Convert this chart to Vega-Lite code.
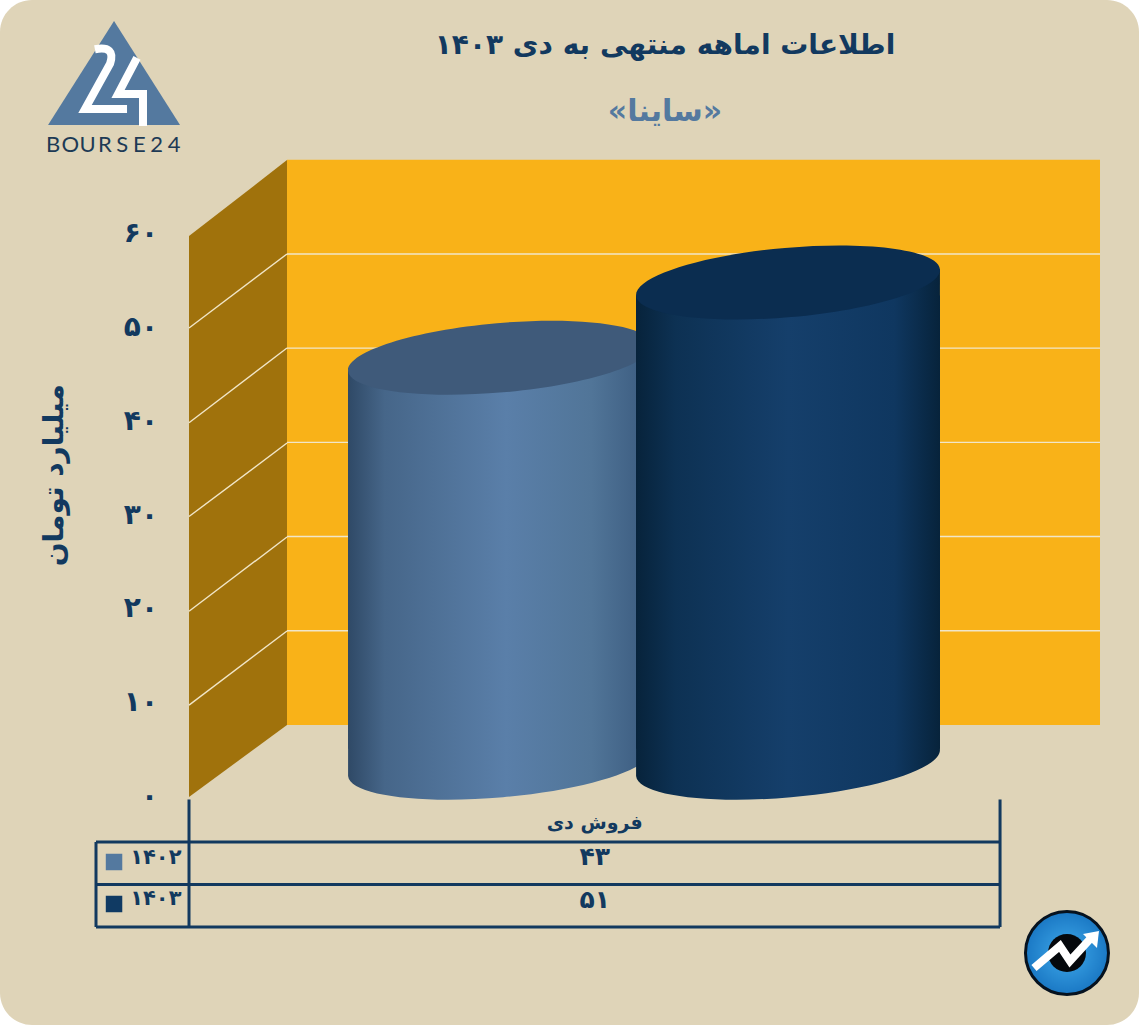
{"$schema":"https://vega.github.io/schema/vega-lite/v6.json","width":1139,"height":1025,"padding":0,"autosize":{"type":"fit","contains":"padding"},"background":"#ffffff","view":{"fill":"#dfd4b8","cornerRadius":32,"stroke":null},"config":{"axis":{"disable":true},"legend":{"disable":true}},"resolve":{"scale":{"x":"independent","y":"independent","color":"independent"}},
"data":{"values":[{"period":"۱۴۰۲","value":43,"valueFa":"۴۳"},{"period":"۱۴۰۳","value":51,"valueFa":"۵۱"}]},
"layer":[
{"data":{"values":[{"depth":0,"floor":0,"ceiling":59.8},{"depth":1,"floor":7.68,"ceiling":67.9}]},"mark":{"type":"area","color":"#a0720c","opacity":1},"encoding":{"x":{"field":"depth","type":"quantitative","scale":{"domain":[-1.9286,9.6939]}},"y":{"field":"ceiling","type":"quantitative","scale":{"domain":[-24.307,84.968]}},"y2":{"field":"floor"}}},
{"data":{"values":[{"from":1,"to":9.296,"floor":0,"ceiling":60}]},"mark":{"type":"rect","color":"#f9b218","opacity":1},"encoding":{"x":{"field":"from","type":"quantitative","scale":{"domain":[-1.9286,9.6939]}},"x2":{"field":"to"},"y":{"field":"ceiling","type":"quantitative","scale":{"domain":[-31.85,76.96]}},"y2":{"field":"floor"}}},
{"data":{"values":[{"tick":10},{"tick":20},{"tick":30},{"tick":40},{"tick":50}]},"mark":{"type":"rule","color":"#f1e6c8","strokeWidth":1.4},"encoding":{"x":{"datum":1,"type":"quantitative","scale":{"domain":[-1.9286,9.6939]}},"x2":{"datum":9.296},"y":{"field":"tick","type":"quantitative","scale":{"domain":[-31.85,76.96]}}}},
{"data":{"values":[{"tick":10,"depth":0,"level":9.8},{"tick":10,"depth":1,"level":17.7},{"tick":20,"depth":0,"level":19.8},{"tick":20,"depth":1,"level":27.72},{"tick":30,"depth":0,"level":29.9},{"tick":30,"depth":1,"level":37.74},{"tick":40,"depth":0,"level":39.9},{"tick":40,"depth":1,"level":47.87},{"tick":50,"depth":0,"level":50},{"tick":50,"depth":1,"level":57.89}]},"mark":{"type":"line","color":"#f1e6c8","strokeWidth":1.4},"encoding":{"x":{"field":"depth","type":"quantitative","scale":{"domain":[-1.9286,9.6939]}},"y":{"field":"level","type":"quantitative","scale":{"domain":[-24.307,84.968]}},"detail":{"field":"tick"}}},

{"transform":[{"filter":"datum.value==43"}],"mark":{"type":"bar","size":304,"yOffset":13,"y2Offset":-14,"fill":{"gradient":"linear","x1":0,"x2":1,"y1":0,"y2":0,"stops":[{"offset":0,"color":"#2f4966"},{"offset":0.12,"color":"#466689"},{"offset":0.52,"color":"#5a7fa9"},{"offset":0.8,"color":"#517598"},{"offset":1,"color":"#3a5a7e"}]}},"encoding":{"x":{"field":"period","type":"nominal","scale":{"type":"point","padding":0,"domain":["۱۴۰۲","۱۴۰۳"],"range":[500,788]}},"y":{"field":"value","type":"quantitative","stack":null,"scale":{"domain":[-27.86,81]}},"y2":{"datum":0}}},
{"transform":[{"filter":"datum.value==43"}],"mark":{"type":"point","filled":true,"opacity":1,"size":93025,"shape":"M-0.9962,0.0872A1,0.2275,-5,1,0,0.9962,-0.0872L0.9962,-0.2L-0.9962,-0.2Z","fill":{"gradient":"linear","x1":0,"x2":1,"y1":0,"y2":0,"stops":[{"offset":0,"color":"#2f4966"},{"offset":0.12,"color":"#466689"},{"offset":0.52,"color":"#5a7fa9"},{"offset":0.8,"color":"#517598"},{"offset":1,"color":"#3a5a7e"}]}},"encoding":{"x":{"field":"period","type":"nominal","scale":{"type":"point","padding":0,"domain":["۱۴۰۲","۱۴۰۳"],"range":[500,788]}},"y":{"datum":0,"type":"quantitative","scale":{"domain":[-27.86,81]}}}},
{"transform":[{"filter":"datum.value==43"}],"mark":{"type":"point","filled":true,"opacity":1,"size":93025,"shape":"M-0.9962,0.0872L0.9962,-0.0872L0.9962,0.2L-0.9962,0.2Z","fill":{"gradient":"linear","x1":0,"x2":1,"y1":0,"y2":0,"stops":[{"offset":0,"color":"#2f4966"},{"offset":0.12,"color":"#466689"},{"offset":0.52,"color":"#5a7fa9"},{"offset":0.8,"color":"#517598"},{"offset":1,"color":"#3a5a7e"}]}},"encoding":{"x":{"field":"period","type":"nominal","scale":{"type":"point","padding":0,"domain":["۱۴۰۲","۱۴۰۳"],"range":[500,788]}},"y":{"field":"value","type":"quantitative","scale":{"domain":[-27.86,81]}}}},
{"transform":[{"filter":"datum.value==43"}],"mark":{"type":"point","filled":true,"opacity":1,"size":93025,"shape":"M-0.9962,0.0872A1,0.2275,-5,1,1,0.9962,-0.0872A1,0.2275,-5,1,1,-0.9962,0.0872Z","fill":"#3f5a7a"},"encoding":{"x":{"field":"period","type":"nominal","scale":{"type":"point","padding":0,"domain":["۱۴۰۲","۱۴۰۳"],"range":[500,788]}},"y":{"field":"value","type":"quantitative","scale":{"domain":[-27.86,81]}}}},

{"transform":[{"filter":"datum.value==51"}],"mark":{"type":"bar","size":304,"yOffset":13,"y2Offset":-14,"fill":{"gradient":"linear","x1":0,"x2":1,"y1":0,"y2":0,"stops":[{"offset":0,"color":"#07233b"},{"offset":0.13,"color":"#0d3153"},{"offset":0.5,"color":"#153f6b"},{"offset":0.85,"color":"#0f3760"},{"offset":1,"color":"#07233b"}]}},"encoding":{"x":{"field":"period","type":"nominal","scale":{"type":"point","padding":0,"domain":["۱۴۰۲","۱۴۰۳"],"range":[500,788]}},"y":{"field":"value","type":"quantitative","stack":null,"scale":{"domain":[-27.86,81]}},"y2":{"datum":0}}},
{"transform":[{"filter":"datum.value==51"}],"mark":{"type":"point","filled":true,"opacity":1,"size":93025,"shape":"M-0.9962,0.0872A1,0.2275,-5,1,0,0.9962,-0.0872L0.9962,-0.2L-0.9962,-0.2Z","fill":{"gradient":"linear","x1":0,"x2":1,"y1":0,"y2":0,"stops":[{"offset":0,"color":"#07233b"},{"offset":0.13,"color":"#0d3153"},{"offset":0.5,"color":"#153f6b"},{"offset":0.85,"color":"#0f3760"},{"offset":1,"color":"#07233b"}]}},"encoding":{"x":{"field":"period","type":"nominal","scale":{"type":"point","padding":0,"domain":["۱۴۰۲","۱۴۰۳"],"range":[500,788]}},"y":{"datum":0,"type":"quantitative","scale":{"domain":[-27.86,81]}}}},
{"transform":[{"filter":"datum.value==51"}],"mark":{"type":"point","filled":true,"opacity":1,"size":93025,"shape":"M-0.9962,0.0872L0.9962,-0.0872L0.9962,0.2L-0.9962,0.2Z","fill":{"gradient":"linear","x1":0,"x2":1,"y1":0,"y2":0,"stops":[{"offset":0,"color":"#07233b"},{"offset":0.13,"color":"#0d3153"},{"offset":0.5,"color":"#153f6b"},{"offset":0.85,"color":"#0f3760"},{"offset":1,"color":"#07233b"}]}},"encoding":{"x":{"field":"period","type":"nominal","scale":{"type":"point","padding":0,"domain":["۱۴۰۲","۱۴۰۳"],"range":[500,788]}},"y":{"field":"value","type":"quantitative","scale":{"domain":[-27.86,81]}}}},
{"transform":[{"filter":"datum.value==51"}],"mark":{"type":"point","filled":true,"opacity":1,"size":93025,"shape":"M-0.9962,0.0872A1,0.2275,-5,1,1,0.9962,-0.0872A1,0.2275,-5,1,1,-0.9962,0.0872Z","fill":"#0b2d50"},"encoding":{"x":{"field":"period","type":"nominal","scale":{"type":"point","padding":0,"domain":["۱۴۰۲","۱۴۰۳"],"range":[500,788]}},"y":{"field":"value","type":"quantitative","scale":{"domain":[-27.86,81]}}}},

{"data":{"values":[{"tick":0,"label":"۰"},{"tick":10,"label":"۱۰"},{"tick":20,"label":"۲۰"},{"tick":30,"label":"۳۰"},{"tick":40,"label":"۴۰"},{"tick":50,"label":"۵۰"},{"tick":60,"label":"۶۰"}]},"mark":{"type":"text","font":"DejaVu Sans","fontWeight":"bold","fontSize":28,"align":"right","baseline":"middle","color":"#12395f"},"encoding":{"x":{"datum":-0.316,"type":"quantitative","scale":{"domain":[-1.9286,9.6939]}},"y":{"field":"tick","type":"quantitative","scale":{"domain":[-24.307,84.968]}},"text":{"field":"label"}}},
{"data":{"values":[{"t":"میلیارد تومان"}]},"mark":{"type":"text","font":"DejaVu Sans","fontWeight":"bold","fontSize":28,"align":"center","baseline":"middle","angle":270,"color":"#12395f"},"encoding":{"x":{"datum":-1.37,"type":"quantitative","scale":{"domain":[-1.9286,9.6939]}},"y":{"datum":34.3,"type":"quantitative","scale":{"domain":[-24.307,84.968]}},"text":{"field":"t"}}},
{"data":{"values":[{"t":"اطلاعات   اماهه منتهی به دی ۱۴۰۳"}]},"mark":{"type":"text","font":"DejaVu Sans","fontWeight":"bold","fontSize":28,"align":"center","baseline":"middle","color":"#12395f"},"encoding":{"x":{"datum":4.857,"type":"quantitative","scale":{"domain":[-1.9286,9.6939]}},"y":{"datum":80.06,"type":"quantitative","scale":{"domain":[-24.307,84.968]}},"text":{"field":"t"}}},
{"data":{"values":[{"t":"«ساینا»"}]},"mark":{"type":"text","font":"DejaVu Sans","fontWeight":"bold","fontSize":30,"align":"center","baseline":"middle","color":"#54799f"},"encoding":{"x":{"datum":4.857,"type":"quantitative","scale":{"domain":[-1.9286,9.6939]}},"y":{"datum":73.03,"type":"quantitative","scale":{"domain":[-24.307,84.968]}},"text":{"field":"t"}}},

{"data":{"values":[{"row":0},{"row":1},{"row":2}]},"mark":{"type":"rule","color":"#12395f","strokeWidth":3},"encoding":{"x":{"datum":-0.949,"type":"quantitative","scale":{"domain":[-1.9286,9.6939]}},"x2":{"datum":8.276},"y":{"field":"row","type":"quantitative","scale":{"domain":[4.306,-19.81]}}}},
{"data":{"values":[{"col":0,"start":-1},{"col":8.276,"start":-1},{"col":-0.949,"start":0}]},"mark":{"type":"rule","color":"#12395f","strokeWidth":3},"encoding":{"x":{"field":"col","type":"quantitative","scale":{"domain":[-1.9286,9.6939]}},"y":{"field":"start","type":"quantitative","scale":{"domain":[4.306,-19.81]}},"y2":{"datum":2}}},
{"data":{"values":[{"t":"فروش دی"}]},"mark":{"type":"text","font":"DejaVu Sans","fontWeight":"bold","fontSize":19,"align":"center","baseline":"middle","color":"#12395f"},"encoding":{"x":{"datum":4.14,"type":"quantitative","scale":{"domain":[-1.9286,9.6939]}},"y":{"datum":-0.45,"type":"quantitative","scale":{"domain":[4.306,-19.81]}},"text":{"field":"t"}}},
{"mark":{"type":"text","font":"DejaVu Sans","fontWeight":"bold","fontSize":25,"align":"center","baseline":"middle","color":"#12395f"},"encoding":{"x":{"datum":4.14,"type":"quantitative","scale":{"domain":[-1.9286,9.6939]}},"y":{"field":"period","type":"nominal","scale":{"type":"point","padding":0,"domain":["۱۴۰۲","۱۴۰۳"],"range":[857,900]}},"text":{"field":"valueFa"}}},
{"mark":{"type":"text","font":"DejaVu Sans","fontWeight":"bold","fontSize":21,"align":"left","baseline":"middle","color":"#12395f"},"encoding":{"x":{"datum":-0.6,"type":"quantitative","scale":{"domain":[-1.9286,9.6939]}},"y":{"field":"period","type":"nominal","scale":{"type":"point","padding":0,"domain":["۱۴۰۲","۱۴۰۳"],"range":[858,899]}},"text":{"field":"period"}}},
{"mark":{"type":"point","shape":"square","filled":true,"opacity":1,"size":272},"encoding":{"x":{"datum":-0.765,"type":"quantitative","scale":{"domain":[-1.9286,9.6939]}},"y":{"field":"period","type":"nominal","scale":{"type":"point","padding":0,"domain":["۱۴۰۲","۱۴۰۳"],"range":[862,904]}},"color":{"field":"period","type":"nominal","scale":{"domain":["۱۴۰۲","۱۴۰۳"],"range":["#54799f","#103a63"]}}}},

{"data":{"values":[{}]},"mark":{"type":"point","filled":true,"opacity":1,"size":17424,"shape":"M0,-0.788L1,0.788L-1,0.788Z","fill":"#54799f"},"encoding":{"x":{"datum":-0.765,"type":"quantitative","scale":{"domain":[-1.9286,9.6939]}},"y":{"datum":77.19,"type":"quantitative","scale":{"domain":[-24.307,84.968]}}}},
{"data":{"values":[{}]},"mark":{"type":"point","filled":false,"opacity":1,"size":17424,"strokeWidth":8,"strokeJoin":"miter","stroke":"#ffffff","fill":"transparent","shape":"M-0.29,-0.36Q0.03,-0.42,-0.06,-0.14L-0.439,0.545L0.197,0.545M0.348,-0.227L0.061,0.318L0.439,0.318L0.439,0.803"},"encoding":{"x":{"datum":-0.765,"type":"quantitative","scale":{"domain":[-1.9286,9.6939]}},"y":{"datum":77.19,"type":"quantitative","scale":{"domain":[-24.307,84.968]}}}},
{"data":{"values":[{"g":"B"},{"g":"O"},{"g":"U"},{"g":"R"},{"g":"S"},{"g":"E"},{"g":"2"},{"g":"4"}]},"mark":{"type":"text","font":"Lato","fontSize":22,"align":"center","baseline":"middle","color":"#1d3a55"},"encoding":{"x":{"field":"g","type":"nominal","scale":{"type":"point","padding":0,"domain":["B","O","U","R","S","E","2","4"],"range":[53,174]}},"y":{"datum":69.5,"type":"quantitative","scale":{"domain":[-24.307,84.968]}},"text":{"field":"g"}}},

{"data":{"values":[{}]},"mark":{"type":"point","filled":true,"opacity":1,"size":6889,"shape":"circle","strokeWidth":3,"stroke":"#06121f","fill":{"gradient":"radial","stops":[{"offset":0,"color":"#3fa9ea"},{"offset":1,"color":"#1a78c4"}]}},"encoding":{"x":{"datum":8.959,"type":"quantitative","scale":{"domain":[-1.9286,9.6939]}},"y":{"datum":-16.63,"type":"quantitative","scale":{"domain":[-24.307,84.968]}}}},
{"data":{"values":[{}]},"mark":{"type":"point","filled":true,"opacity":1,"size":1444,"shape":"circle","fill":"#05080c"},"encoding":{"x":{"datum":8.959,"type":"quantitative","scale":{"domain":[-1.9286,9.6939]}},"y":{"datum":-16.63,"type":"quantitative","scale":{"domain":[-24.307,84.968]}}}},
{"data":{"values":[{}]},"mark":{"type":"point","filled":false,"opacity":1,"size":6889,"strokeWidth":8,"strokeJoin":"miter","stroke":"#ffffff","fill":"transparent","shape":"M-0.795,0.361L-0.169,-0.169L0.072,0.193L0.56,-0.34"},"encoding":{"x":{"datum":8.959,"type":"quantitative","scale":{"domain":[-1.9286,9.6939]}},"y":{"datum":-16.63,"type":"quantitative","scale":{"domain":[-24.307,84.968]}}}},
{"data":{"values":[{}]},"mark":{"type":"point","filled":true,"opacity":1,"size":6889,"fill":"#ffffff","shape":"M0.771,-0.53L0.386,-0.458L0.723,-0.12Z"},"encoding":{"x":{"datum":8.959,"type":"quantitative","scale":{"domain":[-1.9286,9.6939]}},"y":{"datum":-16.63,"type":"quantitative","scale":{"domain":[-24.307,84.968]}}}}
]}
